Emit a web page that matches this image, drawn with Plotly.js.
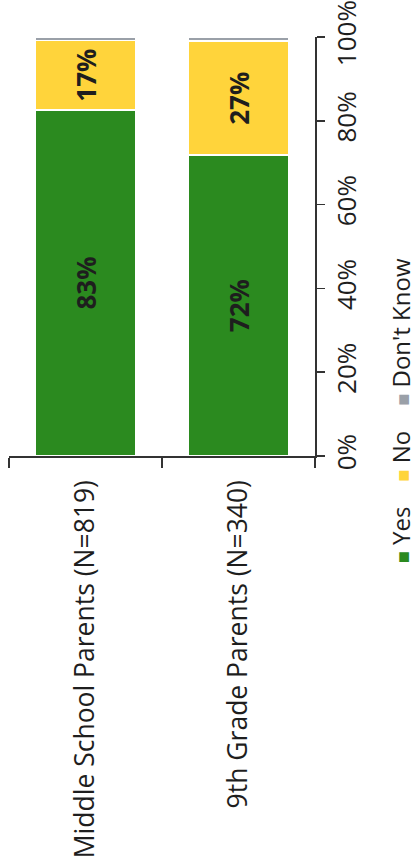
<!DOCTYPE html>
<html>
<head>
<meta charset="utf-8">
<script src="https://cdn.plot.ly/plotly-3.0.1.min.js"></script>
<style>html,body{margin:0;padding:0;background:#fff;}#chart{width:417px;height:867px;}</style>
</head>
<body>
<div id="chart"></div>
<script>
const categories = ["Middle School Parents (N=819)", "9th Grade Parents (N=340)"];
const seriesNames = ["Yes", "No", "Don't Know"];
const yesValues = [82.6, 71.8];
const noValues = [16.6, 27.2];
const dontKnowValues = [0.8, 1.0];
const valueTicks = [0, 20, 40, 60, 80, 100];

const colors = ["#2b8a1f", "#ffd43b", "#9aa0a8"];
const FONT = "Open Sans, sans-serif";
const seriesValues = [yesValues, noValues, dontKnowValues];

const traces = seriesNames.map((name, i) => ({
  type: "bar",
  name: name,
  x: categories,
  y: seriesValues[i],
  marker: {color: colors[i], line: {color: "#ffffff", width: 1.5}},
  text: i < 2 ? seriesValues[i].map(v => Math.round(v) + "%") : seriesValues[i].map(() => ""),
  textposition: i < 2 ? "inside" : "none",
  insidetextanchor: "middle",
  textangle: -90,
  textfont: {family: FONT, size: 26, color: "#1e1e1e", weight: "bold"},
  hoverinfo: "skip"
}));

const legendText = seriesNames.map((n, i) =>
  "<span style='color:" + colors[i] + ";font-size:20px'>■</span> " + n
).join("    ");

const layout = {
  width: 417, height: 867,
  margin: {l: 9, r: 102, t: 37, b: 411},
  paper_bgcolor: "#ffffff", plot_bgcolor: "#ffffff",
  barmode: "stack",
  bargap: 0.346,
  showlegend: false,
  font: {family: FONT, size: 26, color: "#1e1e1e"},
  xaxis: {
    type: "category",
    tickangle: -90,
    ticks: "outside", ticklen: 10, tickcolor: "#333", tickwidth: 1.5,
    tickson: "boundaries",
    showline: true, linecolor: "#333", linewidth: 1.5,
    showgrid: false, zeroline: false,
    ticklabelstandoff: 12,
    tickfont: {family: FONT, size: 26.5, color: "#1e1e1e"}
  },
  yaxis: {
    side: "right",
    range: [0, 100],
    tickvals: valueTicks,
    ticktext: valueTicks.map(v => v + "%"),
    tickangle: -90,
    ticks: "outside", ticklen: 8, tickcolor: "#333", tickwidth: 1.5,
    showline: true, linecolor: "#333", linewidth: 1.5,
    showgrid: false, zeroline: false,
    tickfont: {family: FONT, size: 26, color: "#1e1e1e"}
  },
  annotations: [{
    xref: "paper", yref: "paper",
    x: 1.278, y: 0.107,
    xanchor: "center", yanchor: "middle",
    textangle: -90,
    showarrow: false,
    text: legendText,
    font: {family: FONT, size: 24, color: "#1e1e1e"}
  }]
};

Plotly.newPlot("chart", traces, layout, {displayModeBar: false, staticPlot: true});
</script>
</body>
</html>
